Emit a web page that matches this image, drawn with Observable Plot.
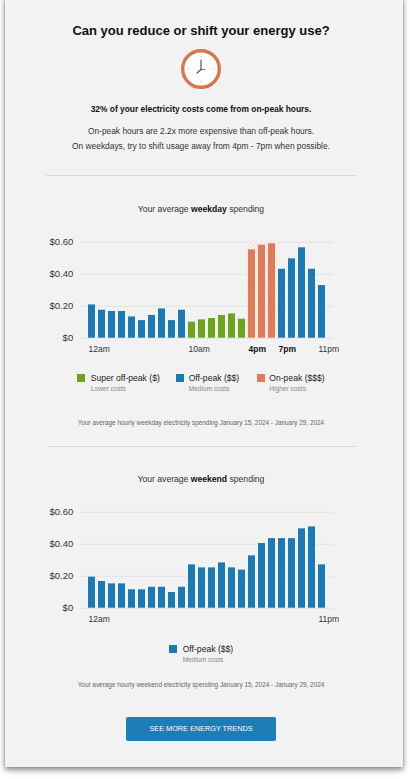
<!DOCTYPE html>
<html>
<head>
<meta charset="utf-8">
<script src="https://cdn.jsdelivr.net/npm/d3@7"></script>
<script src="https://cdn.jsdelivr.net/npm/@observablehq/plot@0.6"></script>
<style>
  html, body { margin: 0; padding: 0; background: #ffffff; }
  body { width: 410px; height: 779px; position: relative; overflow: hidden; font-family: Arial, "Liberation Sans", sans-serif; }
  #card { position: absolute; left: 5px; top: -4px; width: 398px; height: 771px; background: #f2f2f2;
          box-shadow: 0 3px 6px rgba(0,0,0,0.45), 0 0 3px rgba(0,0,0,0.2); }
  .t { position: absolute; left: 0; width: 402px; text-align: center; white-space: nowrap; }
  .abs { position: absolute; white-space: nowrap; }
  .sw { position: absolute; width: 8px; height: 8px; }
  .rule { position: absolute; height: 1px; background: #d9d9d9; }
  .chart { position: absolute; left: 0; }
</style>
</head>
<body>
<div id="card"></div>
<div id="page"></div>
<script>
// ---------- data ----------
const hours = ["12am","1am","2am","3am","4am","5am","6am","7am","8am","9am","10am","11am",
               "12pm","1pm","2pm","3pm","4pm","5pm","6pm","7pm","8pm","9pm","10pm","11pm"];
const weekdayValues = [0.208,0.175,0.167,0.167,0.133,0.11,0.142,0.183,0.11,0.175,
                       0.10,0.115,0.123,0.142,0.152,0.119,
                       0.552,0.581,0.59,
                       0.431,0.496,0.565,0.431,0.329];
const weekdayPeriods = ["off","off","off","off","off","off","off","off","off","off",
                        "super","super","super","super","super","super",
                        "on","on","on",
                        "off","off","off","off","off"];
const weekendValues = [0.194,0.167,0.152,0.152,0.115,0.115,0.131,0.131,0.098,0.131,
                       0.271,0.252,0.252,0.283,0.252,0.238,0.327,0.404,0.435,0.435,
                       0.435,0.496,0.508,0.271];
const yTicks = [0, 0.2, 0.4, 0.6];
const weekdayTickLabels = ["12am","10am","11pm"];
const weekdayBoldTickLabels = ["4pm","7pm"];
const weekendTickLabels = ["12am","11pm"];
const periodNames = ["super","off","on"];
const periodColors = ["#6ba51f","#1b7ab3","#e07b59"];
const periodLabels = ["Super off-peak ($)","Off-peak ($$)","On-peak ($$$)"];
const periodSubLabels = ["Lower costs","Medium costs","Higher costs"];

// ---------- layout helpers ----------
const page = document.getElementById("page");
function text(str, cy, size, weight, color, extra) {
  const d = document.createElement("div");
  d.className = "t";
  d.style.fontSize = size + "px";
  d.style.lineHeight = (size * 1.2) + "px";
  d.style.top = (cy - size * 0.6) + "px";
  d.style.fontWeight = weight || "normal";
  d.style.color = color || "#222";
  if (extra) Object.assign(d.style, extra);
  d.innerHTML = str;
  page.appendChild(d);
  return d;
}
function absText(str, x, cy, size, weight, color) {
  const d = document.createElement("div");
  d.className = "abs";
  d.style.left = x + "px";
  d.style.fontSize = size + "px";
  d.style.lineHeight = (size * 1.2) + "px";
  d.style.top = (cy - size * 0.6) + "px";
  d.style.fontWeight = weight || "normal";
  d.style.color = color || "#222";
  d.textContent = str;
  page.appendChild(d);
}
function swatch(x, y, color) {
  const d = document.createElement("div");
  d.className = "sw";
  d.style.left = x + "px"; d.style.top = y + "px"; d.style.background = color;
  page.appendChild(d);
}
function rule(x1, x2, y) {
  const d = document.createElement("div");
  d.className = "rule";
  d.style.left = x1 + "px"; d.style.width = (x2 - x1) + "px"; d.style.top = y + "px";
  page.appendChild(d);
}

// ---------- header ----------
text("Can you reduce or shift your energy use?", 31, 13, "bold", "#111");

const clock = document.createElement("div");
clock.className = "abs";
clock.style.left = "180px"; clock.style.top = "48px";
clock.innerHTML = `<svg width="42" height="42" viewBox="0 0 42 42">
  <circle cx="21" cy="21" r="18.3" fill="#ffffff" stroke="#d9764f" stroke-width="3.4"/>
  <circle cx="21" cy="8.3" r="0.7" fill="#bbb"/><circle cx="21" cy="33.7" r="0.7" fill="#bbb"/>
  <circle cx="8.3" cy="21" r="0.7" fill="#bbb"/><circle cx="33.7" cy="21" r="0.7" fill="#bbb"/>
  <line x1="21" y1="21.5" x2="21" y2="12" stroke="#555" stroke-width="1.2" stroke-linecap="round"/>
  <line x1="21" y1="21.5" x2="17" y2="25" stroke="#555" stroke-width="1.2" stroke-linecap="round"/>
  <line x1="21" y1="21.5" x2="25" y2="21.5" stroke="#555" stroke-width="0.8" stroke-linecap="round"/>
</svg>`;
page.appendChild(clock);

text("32% of your electricity costs come from on-peak hours.", 109, 8.4, "bold", "#111");
text("On-peak hours are 2.2x more expensive than off-peak hours.", 131, 8.4, "normal", "#333");
text("On weekdays, try to shift usage away from 4pm - 7pm when possible.", 146, 8.4, "normal", "#333");
rule(46, 357, 175);

// ---------- charts ----------
const fmt = d => d === 0 ? "$0" : "$" + d.toFixed(2);
function makeChart(values, fills, normalTicks, boldTicks, withHatch) {
  const rows = hours.map((h, i) => ({hour: h, value: values[i], fill: fills[i]}));
  const onPeak = rows.filter(r => r.fill === "on");
  const marks = [
    Plot.ruleY(yTicks, {stroke: "#dedede", strokeWidth: 0.8, insetLeft: -6, insetRight: -6}),
  ];
  if (withHatch) {
    marks.push(Plot.rectY(onPeak, {x: "hour", y1: 0, y2: () => 0.607, fill: "url(#hatch)", insetLeft: -1.5, insetRight: -1.5}));
  }
  marks.push(
    Plot.barY(rows, {x: "hour", y1: 0, y2: "value", fill: "fill"}),
    Plot.axisY({ticks: yTicks, tickFormat: fmt, tickSize: 0, tickPadding: 13, fontSize: 9.5, color: "#333", label: null}),
    Plot.text(normalTicks, {x: d => d, y: () => 0, dy: 11, dx: -3.5, textAnchor: "start", fontSize: 8.5, fill: "#333"})
  );
  if (boldTicks.length) {
    marks.push(Plot.text(boldTicks, {x: d => d, y: () => 0, dy: 11, dx: -3.5, textAnchor: "start", fontSize: 8.5, fontWeight: "bold", fill: "#111"}));
  }
  const svg = Plot.plot({
    width: 410, height: 135,
    marginLeft: 85.7, marginRight: 83, marginTop: 16.7, marginBottom: 22.3,
    style: {background: "transparent", fontFamily: "Arial, 'Liberation Sans', sans-serif", overflow: "visible"},
    x: {type: "band", domain: hours, paddingInner: 0.31, paddingOuter: 0, axis: null},
    y: {domain: [0, 0.6], axis: null},
    color: {domain: periodNames, range: periodColors},
    marks
  });
  if (withHatch) {
    const ns = "http://www.w3.org/2000/svg";
    const defs = document.createElementNS(ns, "defs");
    defs.innerHTML = `<pattern id="hatch" patternUnits="userSpaceOnUse" width="3.5" height="3.5" patternTransform="rotate(45)">
      <rect width="3.5" height="3.5" fill="#f6f0ee"/><line x1="0" y1="0" x2="0" y2="3.5" stroke="#f0cdbf" stroke-width="1"/></pattern>`;
    svg.insertBefore(defs, svg.firstChild);
  }
  return svg;
}

text("Your average <b style='color:#111'>weekday</b> spending", 209.3, 8.6, "normal", "#333");
const c1 = makeChart(weekdayValues, weekdayPeriods, weekdayTickLabels, weekdayBoldTickLabels, true);
c1.classList.add("chart"); c1.style.top = "225px"; c1.style.position = "absolute";
page.appendChild(c1);

// legend 1
const swX = [76.7, 176, 256.7];
const txX = [90.7, 188.7, 269.3];
periodNames.forEach((p, i) => {
  swatch(swX[i], 374.2, periodColors[i]);
  absText(periodLabels[i], txX[i], 378.4, 8.6, "normal", "#222");
  absText(periodSubLabels[i], txX[i], 389.4, 6.6, "normal", "#888");
});
text("Your average hourly weekday electricity spending January 15, 2024 - January 29, 2024", 423.3, 6.4, "normal", "#666");
rule(47, 357, 445.5);

text("Your average <b style='color:#111'>weekend</b> spending", 479.3, 8.6, "normal", "#333");
const c2 = makeChart(weekendValues, hours.map(() => "off"), weekendTickLabels, [], false);
c2.classList.add("chart"); c2.style.top = "495px"; c2.style.position = "absolute";
page.appendChild(c2);

swatch(169, 645, periodColors[1]);
absText(periodLabels[1], 182.7, 649, 8.6, "normal", "#222");
absText(periodSubLabels[1], 182.7, 660, 6.6, "normal", "#888");
text("Your average hourly weekend electricity spending January 15, 2024 - January 29, 2024", 685, 6.4, "normal", "#666");

// button
const btn = document.createElement("div");
btn.className = "abs";
Object.assign(btn.style, {left: "126px", top: "716.5px", width: "150px", height: "24.5px", background: "#1d7db7",
  borderRadius: "2px", color: "#ffffff", fontSize: "7.3px", lineHeight: "24.5px", textAlign: "center"});
btn.textContent = "SEE MORE ENERGY TRENDS";
page.appendChild(btn);
</script>
</body>
</html>
